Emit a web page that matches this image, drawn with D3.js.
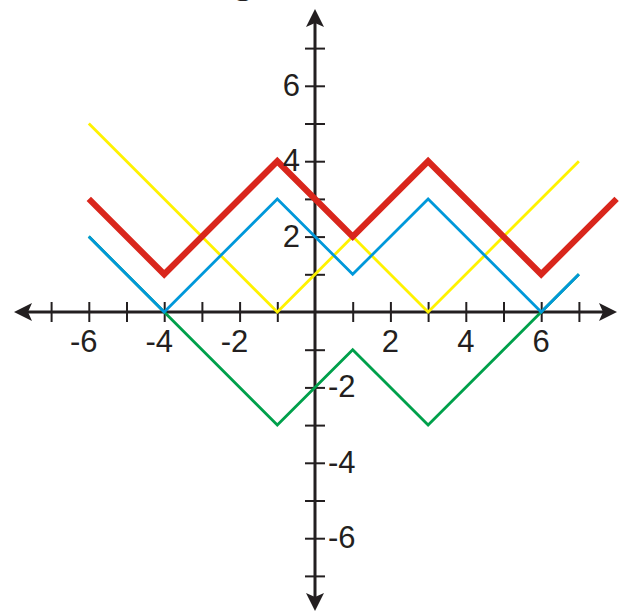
<!DOCTYPE html>
<html>
<head>
<meta charset="utf-8">
<script src="https://cdn.jsdelivr.net/npm/d3@7"></script>
<style>
  body { margin: 0; background: #fff; }
  svg { display: block; }
  text { font-family: "Liberation Sans", Arial, sans-serif; fill: #231f20; }
</style>
</head>
<body>
<svg width="626" height="612"></svg>
<script>
// Graph data: vertices of each piecewise line
const yellowPts = [[-6, 5], [-1, 0], [1, 2], [3, 0], [7, 4]];
const greenPts = [[-6, 2], [-4, 0], [-1, -3], [1, -1], [3, -3], [6, 0], [7, 1]];
const bluePts = [[-6, 2], [-4, 0], [-1, 3], [1, 1], [3, 3], [6, 0], [7, 1]];
const redPts = [[-6, 3], [-4, 1], [-1, 4], [1, 2], [3, 4], [6, 1], [8, 3]];

const tickVals = [-7, -6, -5, -4, -3, -2, -1, 1, 2, 3, 4, 5, 6, 7];
const xLabels = [-6, -4, -2, 2, 4, 6];
const yLabels = [-6, -4, -2, 2, 4, 6];

const svg = d3.select("svg");
const unit = 37.7;
const ox = 315, oy = 312;

const x = d3.scaleLinear().domain([-8, 8]).range([ox - 8 * unit, ox + 8 * unit]);
const y = d3.scaleLinear().domain([-8, 8]).range([oy + 8 * unit, oy - 8 * unit]);

const ink = "#231f20";

// cut-off title text at the very top (only its descender shows)
svg.append("text")
  .attr("x", 243)
  .attr("y", -8)
  .attr("text-anchor", "middle")
  .style("font-family", "'Liberation Serif', 'Times New Roman', serif")
  .style("font-size", "40px")
  .text("g");

// ticks (crossing the axis lines)
svg.append("g")
  .attr("transform", `translate(0, ${oy - 10})`)
  .call(d3.axisBottom(x).tickValues(tickVals).tickSize(20).tickFormat(""))
  .call((g) => g.select(".domain").remove())
  .selectAll("line").attr("stroke", ink).attr("stroke-width", 2);

svg.append("g")
  .attr("transform", `translate(${ox + 10}, 0)`)
  .call(d3.axisLeft(y).tickValues(tickVals).tickSize(20).tickFormat(""))
  .call((g) => g.select(".domain").remove())
  .selectAll("line").attr("stroke", ink).attr("stroke-width", 2);

// axis lines
svg.append("line")
  .attr("x1", 24).attr("x2", 606).attr("y1", oy).attr("y2", oy)
  .attr("stroke", ink).attr("stroke-width", 3);
svg.append("line")
  .attr("x1", ox).attr("x2", ox).attr("y1", 20).attr("y2", 600)
  .attr("stroke", ink).attr("stroke-width", 3);

// arrow heads
function arrow(tx, ty, angle) {
  svg.append("path")
    .attr("d", "M0,0 L-18,-9 L-14,0 L-18,9 Z")
    .attr("fill", ink)
    .attr("transform", `translate(${tx},${ty}) rotate(${angle})`);
}
arrow(617, oy, 0);
arrow(14, oy, 180);
arrow(ox, 9, -90);
arrow(ox, 611, 90);

// lines
const line = d3.line().x((d) => x(d[0])).y((d) => y(d[1]));
const series = [
  { pts: yellowPts, color: "#fff200", w: 2.8 },
  { pts: greenPts, color: "#00a04b", w: 2.8 },
  { pts: bluePts, color: "#0098da", w: 2.8 },
  { pts: redPts, color: "#d9261c", w: 6.2 }
];
svg.append("g")
  .selectAll("path")
  .data(series)
  .enter()
  .append("path")
  .attr("d", (d) => line(d.pts))
  .attr("fill", "none")
  .attr("stroke", (d) => d.color)
  .attr("stroke-width", (d) => d.w)
  .attr("stroke-linejoin", "miter");

// axis labels
svg.append("g")
  .selectAll("text")
  .data(xLabels)
  .enter()
  .append("text")
  .attr("x", (d) => x(d) + (d < 0 ? -5 : 0))
  .attr("y", oy + 40)
  .attr("text-anchor", "middle")
  .style("font-size", "31px")
  .text((d) => d);

svg.append("g")
  .selectAll("text")
  .data(yLabels)
  .enter()
  .append("text")
  .attr("x", (d) => (d > 0 ? ox - 15 : ox + 13))
  .attr("y", (d) => y(d) + 10)
  .attr("text-anchor", (d) => (d > 0 ? "end" : "start"))
  .style("font-size", "31px")
  .text((d) => d);
</script>
</body>
</html>
